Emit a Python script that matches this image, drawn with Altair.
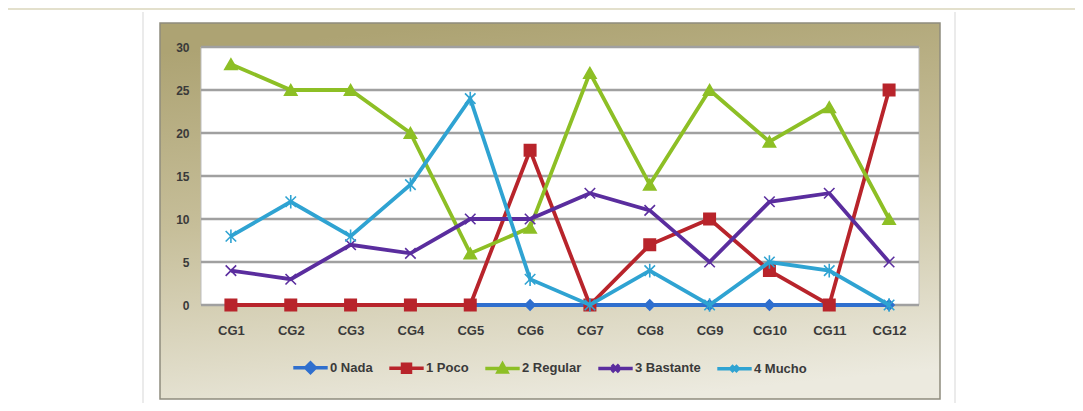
import altair as alt
import pandas as pd

# ---------------- data ----------------
categories = ["CG1", "CG2", "CG3", "CG4", "CG5", "CG6", "CG7", "CG8", "CG9", "CG10", "CG11", "CG12"]
series_names = ["0 Nada", "1 Poco", "2 Regular", "3 Bastante", "4 Mucho"]
nada = [0, 0, 0, 0, 0, 0, 0, 0, 0, 0, 0, 0]
poco = [0, 0, 0, 0, 0, 18, 0, 7, 10, 4, 0, 25]
regular = [28, 25, 25, 20, 6, 9, 27, 14, 25, 19, 23, 10]
bastante = [4, 3, 7, 6, 10, 10, 13, 11, 5, 12, 13, 5]
mucho = [8, 12, 8, 14, 24, 3, 0, 4, 0, 5, 4, 0]
y_ticks = [0, 5, 10, 15, 20, 25, 30]

series_values = [nada, poco, regular, bastante, mucho]
series_colors = ["#2f6fce", "#b8242b", "#8dbf25", "#5a2d9e", "#2fa3d2"]

rows = []
for name, vals in zip(series_names, series_values):
    for cat, v in zip(categories, vals):
        rows.append({"cat": cat, "serie": name, "val": v})
df = pd.DataFrame(rows)
ticks_df = pd.DataFrame({"val": y_ticks})

# ---------------- layout ----------------
W, H = 718, 258
FONT = "Liberation Sans, Arial, sans-serif"

X_PATH = "M-1,-1L1,1M-1,1L1,-1"
STAR_PATH = "M-1,-1L1,1M-1,1L1,-1M0,-1.3L0,1.3"
point_shapes = ["diamond", "square", "triangle-up", X_PATH, STAR_PATH]
point_sizes = [100, 130, 150, 110, 110]

# legend symbols: line segment + marker
LINE = "M-4.3,0L4.3,0"
legend_paths = [
    LINE + "M0,-1.2L1.2,0L0,1.2L-1.2,0Z",
    LINE + "M-1,-1L1,-1L1,1L-1,1Z",
    LINE + "M0,-1.1L1.1,0.9L-1.1,0.9Z",
    LINE + "M-0.9,-0.9L0.9,0.9M-0.9,0.9L0.9,-0.9",
    LINE + "M-0.8,-0.8L0.8,0.8M-0.8,0.8L0.8,-0.8",
]

color_scale = alt.Scale(domain=series_names, range=series_colors)
legend = alt.Legend(
    orient="none", legendX=90, legendY=314, direction="horizontal", title=None,
    labelFont=FONT, labelFontSize=13, labelFontWeight="bold", labelColor="#3a3a3a",
    symbolSize=64, symbolOffset=13, labelOffset=13, columnPadding=9,
    symbolStrokeWidth=3.5, symbolOpacity=1,
)

y_axis = alt.Axis(values=y_ticks, grid=False, domain=False, ticks=False, title=None,
                  labelFont=FONT, labelFontSize=12, labelFontWeight="bold",
                  labelColor="#3a3a3a", labelPadding=12, zindex=2)
y_enc = alt.Y("val:Q", scale=alt.Scale(domain=[0, 30], nice=False, zero=True), axis=y_axis)
x_enc = alt.X("cat:N", sort=categories, scale=alt.Scale(type="point", padding=0.5),
              axis=alt.Axis(labelAngle=0, domain=False, ticks=False, title=None,
                            labelFont=FONT, labelFontSize=13, labelFontWeight="bold",
                            labelColor="#3a3a3a", labelPadding=19, zindex=2))

one = alt.Data(values=[{"k": 0}])

panel_lines = alt.Chart(one).mark_rule(color="#e4e4e4", strokeWidth=1.5).encode(
    x=alt.value(-58), y=alt.value(-35), y2=alt.value(364)
) + alt.Chart(one).mark_rule(color="#e4e4e4", strokeWidth=1.5).encode(
    x=alt.value(754), y=alt.value(-35), y2=alt.value(364)
)
top_line = alt.Chart(one).mark_rule(color="#e3e0cc", strokeWidth=2).encode(
    x=alt.value(-193), x2=alt.value(874), y=alt.value(-38)
)

frame_fill = alt.Gradient(
    gradient="linear",
    stops=[alt.GradientStop(color="#ada373", offset=0),
           alt.GradientStop(color="#c6be99", offset=0.45),
           alt.GradientStop(color="#eceadf", offset=1)],
    x1=0.4, y1=0, x2=0.6, y2=1,
)
frame = alt.Chart(one).mark_rect(fill=frame_fill, stroke="#8f8c7e", strokeWidth=1.5).encode(
    x=alt.value(-41), x2=alt.value(739), y=alt.value(-24), y2=alt.value(352)
)
plot_bg = alt.Chart(one).mark_rect(fill="white", stroke="#bdbdbd", strokeWidth=1).encode(
    x=alt.value(0), x2=alt.value(W), y=alt.value(0), y2=alt.value(H)
)

grid = alt.Chart(ticks_df).mark_rule(color="#a0a0a0", strokeWidth=2.4).encode(y=y_enc)

series_layers = []
for i, name in enumerate(series_names):
    base = alt.Chart(df).transform_filter(alt.datum.serie == name)
    line = base.mark_line(strokeWidth=3.8).encode(
        x=x_enc, y=y_enc,
        color=alt.Color("serie:N", scale=color_scale, legend=None),
    )
    pts = base.mark_point(filled=True, opacity=1, size=point_sizes[i], strokeWidth=1.6).encode(
        x=x_enc, y=y_enc,
        color=alt.Color("serie:N", scale=color_scale, legend=None),
        stroke=alt.Stroke("serie:N", scale=color_scale, legend=None),
        shape=alt.Shape("serie:N", scale=alt.Scale(domain=series_names, range=point_shapes), legend=None),
    )
    series_layers += [line, pts]

main = alt.layer(panel_lines, top_line, frame, plot_bg, grid, *series_layers)

# legend-only layer (draws no marks; its scales carry the legend entries)
legend_layer = alt.Chart(df).transform_filter("false").mark_point(filled=True, strokeWidth=3.5).encode(
    x=x_enc, y=y_enc,
    color=alt.Color("serie:N", scale=color_scale, legend=legend),
    stroke=alt.Stroke("serie:N", scale=color_scale, legend=legend),
    shape=alt.Shape("serie:N", scale=alt.Scale(domain=series_names, range=legend_paths), legend=legend),
)

chart = alt.layer(main, legend_layer).resolve_scale(
    color="independent", stroke="independent", shape="independent"
).properties(
    width=W, height=H,
    autosize=alt.AutoSizeParams(type="none"),
    padding={"left": 193, "top": 39, "right": 156, "bottom": 98},
    background="white",
).configure_view(strokeWidth=0)

chart.save("out.html", embed_options={"renderer": "svg", "actions": False})
